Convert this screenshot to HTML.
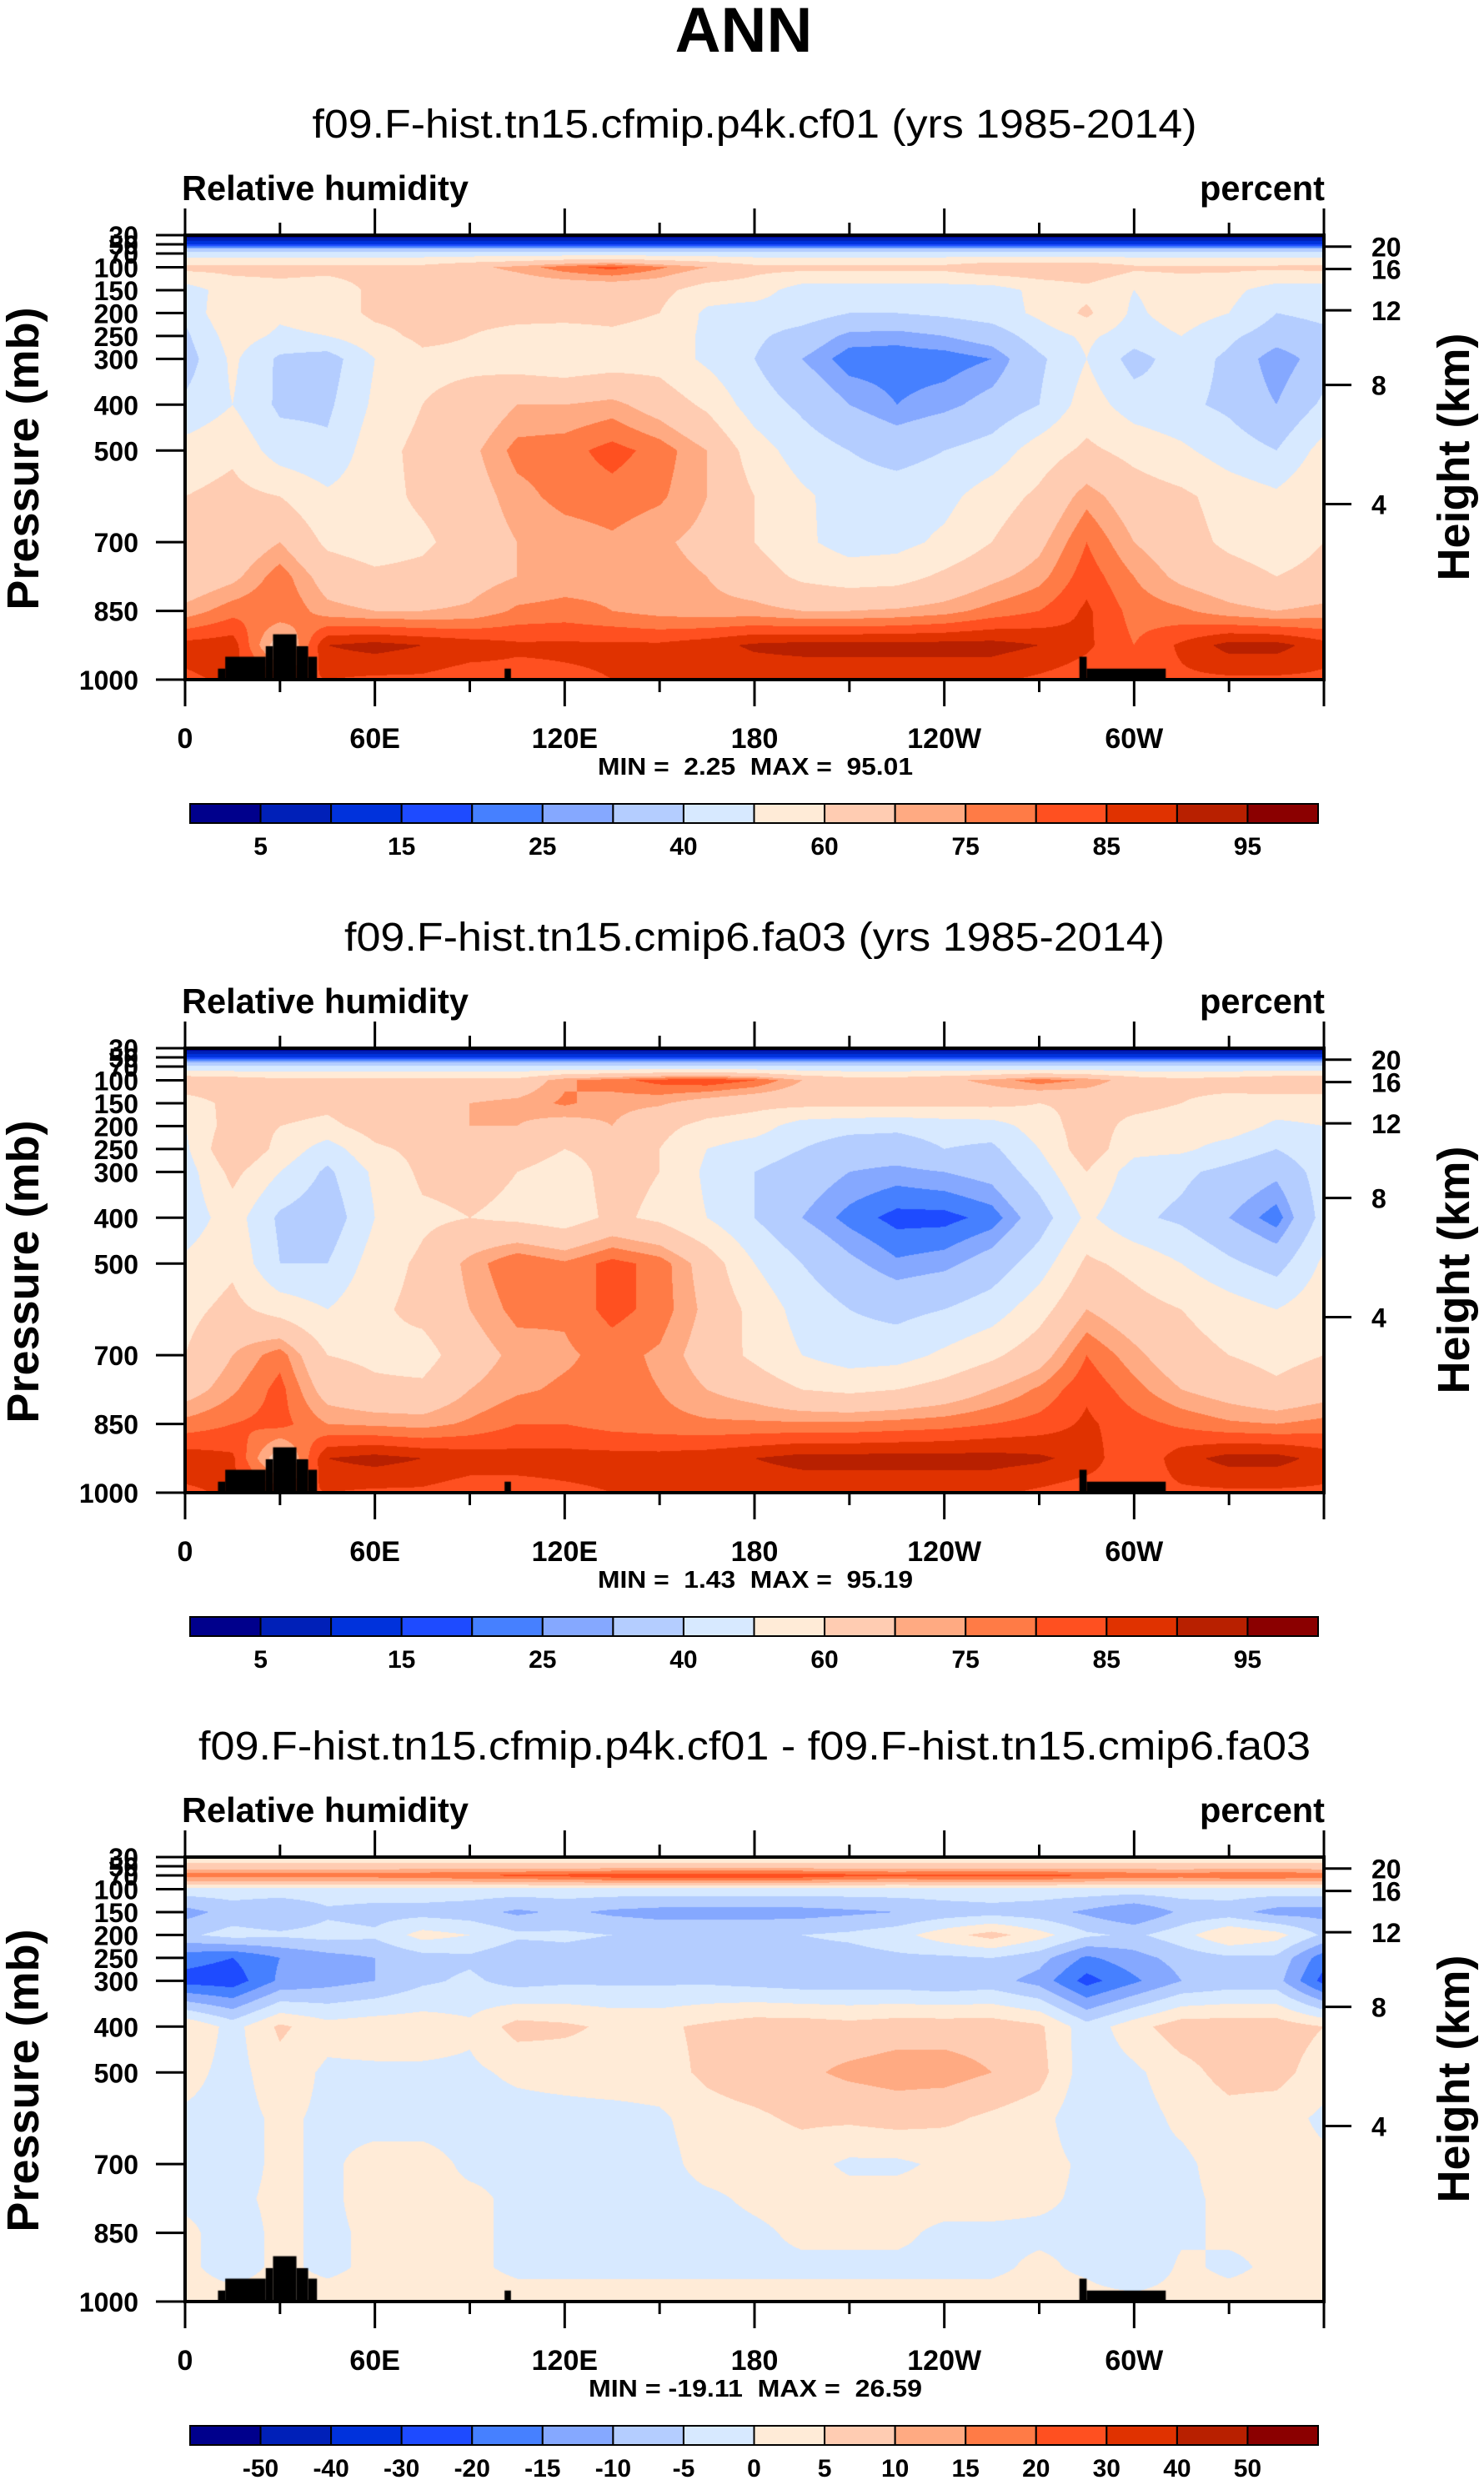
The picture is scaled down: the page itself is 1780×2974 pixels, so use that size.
<!DOCTYPE html>
<html><head><meta charset="utf-8"><style>
html,body{margin:0;padding:0;background:#fff;}
#wrap{position:relative;width:1780px;height:2974px;overflow:hidden;background:#fff;}
canvas{position:absolute;}
svg{position:absolute;left:0;top:0;}
text{font-family:"Liberation Sans",Arial,sans-serif;white-space:pre;}
</style></head><body>
<div id="wrap">
<canvas id="c0"></canvas>
<canvas id="c1"></canvas>
<canvas id="c2"></canvas>
<svg id="ov" width="1780" height="2974"></svg>
</div>
<script>
// ---- data ----
const lons = [0,15,30,45,60,75,90,105,120,135,150,165,180,195,210,225,240,255,270,285,300,315,330,345,360];
const plevs = [30,50,70,100,150,200,250,300,400,500,600,700,775,850,925,1000];
const rh1 = [
[2,2,2,2,2,2,2,2,2,2,2,2,2,2,2,2,2,2,2,2,2,2,2,2,2],
[15,15,15,15,15,15,15,15,15,15,15,15,15,15,15,15,15,15,15,15,15,15,15,15,15],
[45,45,45,45,45,45,45,45,45,45,45,45,45,45,45,45,45,45,45,45,45,45,45,45,45],
[63,63,63,63,63,63,68,72,78,82,76,70,63,63,63,63,63,68,68,68,62,62,62,62,63],
[45,55,57,55,62,63,63,63,63,63,63,55,55,45,45,45,45,45,53,57,50,55,53,45,45],
[42,60,52,55,62,63,63,63,63,63,60,48,45,45,40,40,42,45,52,62,48,55,50,40,42],
[38,55,48,50,57,62,60,57,56,58,56,48,42,36,28,27,30,34,45,52,45,50,42,35,38],
[35,52,38,35,50,58,58,55,53,55,56,48,40,30,22,22,22,25,38,50,36,45,38,25,35],
[42,50,38,38,52,60,63,70,70,72,66,58,45,38,30,25,28,33,40,55,45,42,38,30,42],
[54,58,45,42,56,63,68,77,78,82,78,70,55,45,40,36,40,44,55,62,57,52,45,40,54],
[60,63,60,52,56,62,66,73,77,78,76,70,60,52,45,45,47,55,62,73,65,62,56,52,60],
[60,63,70,58,55,58,65,70,72,74,71,68,60,52,46,47,52,60,68,80,70,64,58,55,60],
[63,68,78,66,62,63,67,70,72,73,72,70,65,58,55,56,62,68,73,83,75,68,64,60,63],
[72,78,80,72,70,70,71,76,77,75,73,72,72,70,70,71,73,77,80,86,78,76,72,70,72],
[87,88,65,90,92,90,88,86,86,86,86,88,91,92,92,92,92,92,90,86,80,86,92,92,87],
[84,86,84,85,84,84,82,83,84,85,86,86,86,86,86,86,86,86,84,82,83,84,84,84,84]
];
const rh2 = [
[2,2,2,2,2,2,2,2,2,2,2,2,2,2,2,2,2,2,2,2,2,2,2,2,2],
[14,14,14,14,14,14,14,14,14,14,14,14,14,14,14,14,14,14,14,14,14,14,14,14,14],
[42,42,42,42,42,42,42,42,42,42,42,42,42,42,42,42,42,42,42,42,42,42,42,42,42],
[68,66,63,63,63,63,63,63,74,78,82,84,80,70,65,65,68,72,78,74,66,63,65,68,68],
[55,63,65,63,70,70,70,72,76,72,71,66,63,63,63,63,63,63,60,62,63,60,56,55,55],
[50,65,60,57,65,68,70,70,66,70,63,57,55,45,43,42,44,45,55,65,57,55,55,48,50],
[48,70,57,45,58,63,65,65,60,63,60,50,45,40,35,35,40,38,50,66,53,52,46,40,48],
[45,63,50,38,52,62,63,60,56,63,60,48,40,35,30,28,30,33,45,60,45,42,37,32,45],
[44,55,38,33,50,58,60,58,55,62,58,50,40,30,23,18,18,22,35,52,42,38,30,22,44],
[52,58,40,40,55,62,72,80,76,82,78,66,50,40,32,26,28,34,45,62,57,50,42,36,52],
[57,63,56,50,58,63,70,77,76,82,78,68,57,46,40,37,40,45,56,70,64,60,55,50,57],
[60,70,78,60,58,56,66,72,74,77,74,66,58,50,45,46,52,58,66,80,72,64,60,57,60],
[66,74,82,66,62,62,70,74,76,77,75,70,66,60,58,60,64,70,76,84,77,70,66,62,66],
[77,80,82,75,74,73,76,80,80,78,77,76,76,76,76,77,78,80,82,86,82,79,76,75,77],
[88,86,65,90,92,90,88,87,87,87,87,88,90,92,92,92,92,92,91,88,80,88,92,92,88],
[84,86,84,85,84,84,82,83,84,85,86,86,86,86,86,86,86,86,84,82,83,84,84,84,84]
];
const rhdiff = [
[3,3,3,3,3,3,3,3,3,3,3,3,3,3,3,3,3,3,3,3,3,3,3,3,3],
[6,6,6,6,6,6,6,6,6,6,6,6,6,6,6,6,6,6,6,6,6,6,6,6,6],
[18,18,18,18,18,19,20,21,22,24,24,24,24,24,22,21,22,22,22,20,19,18,20,20,18],
[-2,-2,-2,-2,-2,-2,-2,-2,-2,-2,-2,-2,-2,-2,-2,-2,-2,-2,-2,-2,-2,-2,-2,-2,-2],
[-12,-8,-10,-6,-7,-7,-8,-11,-9,-11,-12,-12,-12,-12,-11,-10,-8,-7,-8,-11,-15,-9,-8,-12,-12],
[-6,-3,-4,-3,-4,2,0,-4,-4,-5,-6,-6,-6,-5,-4,-2,3,7,2,-4,-6,-2,5,2,-6],
[-18,-20,-15,-12,-10,-7,-6,-9,-7,-8,-8,-8,-7,-7,-7,-6,-6,-5,-8,-16,-12,-8,-6,-6,-18],
[-22,-23,-14,-12,-10,-6,-4,-7,-6,-6,-6,-6,-7,-8,-8,-8,-9,-8,-12,-22,-16,-10,-8,-8,-22],
[5,-2,6,2,3,3,1,7,6,4,4,6,8,8,7,8,8,8,6,-3,3,8,8,8,5],
[2,-2,3,-1,-1,-1,-1,1,2,3,3,6,8,9,11,12,12,10,7,-3,-1,3,7,7,2],
[-1,-2,1,-1,-2,-2,-2,-2,-2,-2,-1,3,4,6,6,7,6,4,2,-4,-2,1,3,2,-1],
[-1,-2,1,-1,2,2,-1,-1,-2,-2,-2,2,2,2,-1,-1,1,2,2,-1,-1,-1,2,2,1],
[-1,-1,1,-1,2,1,1,-1,-2,-2,-2,-1,1,2,2,2,2,2,1,-1,-1,-1,1,1,1],
[1,-2,1,-1,1,2,1,-1,-2,-2,-2,-2,-1,1,1,1,-1,-1,-1,-1,-3,-1,1,1,1],
[1,-2,1,-1,1,1,1,-1,-1,-1,-1,-1,-1,-1,-1,-1,-1,-1,1,-1,-5,1,-1,1,1],
[2,2,2,2,2,2,2,2,2,2,2,2,2,2,2,2,2,2,2,2,2,2,2,2,2]
];
const rhLevels = [5,10,15,20,25,30,40,50,60,70,75,80,85,90,95];
const rhLabels = ["5","15","25","40","60","75","85","95"];
const diffLevels = [-50,-40,-30,-20,-15,-10,-5,0,5,10,15,20,30,40,50];
const diffLabels = ["-50","-40","-30","-20","-15","-10","-5","0","5","10","15","20","30","40","50"];
const palette = ["#00008C","#0020B8","#0032DC","#1E4BFF","#4680FF","#85A8FF","#B4CDFF","#D7E9FF","#FFEBD7","#FFCCB2","#FFAA82","#FF7B46","#FF5020","#E03200","#B82000","#8B0000"];
const lonTickVals = [0,60,120,180,240,300];
const lonTickLabels = ["0","60E","120E","180","120W","60W"];
const presTicks = [30,50,70,100,150,200,250,300,400,500,700,850,1000];
const heightTicks = [20,16,12,8,4];
const heightPres = [55,104,194,357,617];
const topoLon0 = [10.4,12.7,25.5,27.8,35.2,38.9,101,282.7,285];
const topoLon1 = [12.7,25.5,27.8,35.2,38.9,41.7,103,285,310];
const topoTop  = [976,950,927,901,927,950,976,950,976];
const titles = ["f09.F-hist.tn15.cfmip.p4k.cf01 (yrs 1985-2014)","f09.F-hist.tn15.cmip6.fa03 (yrs 1985-2014)","f09.F-hist.tn15.cfmip.p4k.cf01 - f09.F-hist.tn15.cmip6.fa03"];
const titleWidths = [1061,984,1334];
const minmax = ["MIN =  2.25  MAX =  95.01","MIN =  1.43  MAX =  95.19","MIN = -19.11  MAX =  26.59"];

// ---- layout ----
const BX=222, BW=1366, BH=533;
const tops=[282,1257,2227];
const NS="http://www.w3.org/2000/svg";
const ov=document.getElementById('ov');
function xOf(lon){return BX+lon/360*BW;}
function yOf(T,p){return T+(p-30)/970*BH;}
function mk(tag,attrs,txt){const e=document.createElementNS(NS,tag);for(const k in attrs)e.setAttribute(k,attrs[k]);if(txt!==undefined)e.textContent=txt;ov.appendChild(e);return e;}
function hex(c){return [parseInt(c.substr(1,2),16),parseInt(c.substr(3,2),16),parseInt(c.substr(5,2),16)];}
const pal=palette.map(hex);

function drawField(idx,grid,levels){
  const cv=document.getElementById('c'+idx);
  cv.width=BW;cv.height=BH;cv.style.left=BX+'px';cv.style.top=tops[idx]+'px';
  const ctx=cv.getContext('2d');
  const img=ctx.createImageData(BW,BH);
  for(let y=0;y<BH;y++){
    const p=30+(y+0.5)/BH*970;
    let j=0;while(j<plevs.length-2&&p>plevs[j+1])j++;
    const fy=Math.min(1,Math.max(0,(p-plevs[j])/(plevs[j+1]-plevs[j])));
    for(let x=0;x<BW;x++){
      const lon=(x+0.5)/BW*360;
      let i=Math.min(lons.length-2,Math.floor(lon/15));
      const fx=(lon-lons[i])/15;
      const v=(grid[j][i]*(1-fx)+grid[j][i+1]*fx)*(1-fy)+(grid[j+1][i]*(1-fx)+grid[j+1][i+1]*fx)*fy;
      let k=0;while(k<levels.length&&v>=levels[k])k++;
      const c=pal[k];const o=(y*BW+x)*4;
      img.data[o]=c[0];img.data[o+1]=c[1];img.data[o+2]=c[2];img.data[o+3]=255;
    }
  }
  ctx.putImageData(img,0,0);
  ctx.fillStyle='#000';
  for(let t=0;t<topoLon0.length;t++){
    const x0=topoLon0[t]/360*BW,x1=topoLon1[t]/360*BW,y0=(topoTop[t]-30)/970*BH;
    ctx.fillRect(x0,y0,x1-x0,BH-y0);
  }
}

function drawPanel(idx,grid,levels,cbLabels,allLabels){
  const T=tops[idx],B=T+BH;
  drawField(idx,grid,levels);
  let e;
  e=mk('text',{x:905,y:T-117,'font-size':48,'text-anchor':'middle',textLength:titleWidths[idx],lengthAdjust:'spacingAndGlyphs'},titles[idx]);
  
  
  e=mk('text',{x:218,y:T-42,'font-size':42,'font-weight':'bold',textLength:344,lengthAdjust:'spacingAndGlyphs'},'Relative humidity');
  
  
  e=mk('text',{x:1589,y:T-42,'font-size':42,'font-weight':'bold','text-anchor':'end',textLength:150,lengthAdjust:'spacingAndGlyphs'},'percent');
  
  
  for(let l=0;l<=360;l+=30){
    const x=xOf(l);const major=(l%60===0);const len=major?32:15;
    e=mk('line',{x1:x,x2:x,y1:T-len,y2:T,stroke:'#000','stroke-width':3});
    
    
    e=mk('line',{x1:x,x2:x,y1:B,y2:B+len,stroke:'#000','stroke-width':3});
    
    
  }
  lonTickVals.forEach((l,k)=>{
    e=mk('text',{x:xOf(l),y:B+82,'font-size':34,'font-weight':'bold','text-anchor':'middle'},lonTickLabels[k]);
    
    
  });
  presTicks.forEach(p=>{
    const y=yOf(T,p);
    e=mk('line',{x1:187,x2:BX,y1:y,y2:y,stroke:'#000','stroke-width':3});
    
    
    e=mk('text',{x:166,y:y+12,'font-size':32,'font-weight':'bold','text-anchor':'end'},String(p));
    
    
  });
  heightTicks.forEach((h,k)=>{
    const y=yOf(T,heightPres[k]);
    e=mk('line',{x1:BX+BW,x2:1621,y1:y,y2:y,stroke:'#000','stroke-width':3});
    
    
    e=mk('text',{x:1645,y:y+12,'font-size':32,'font-weight':'bold'},String(h));
    
    
  });
  e=mk('text',{x:0,y:0,'font-size':54,'font-weight':'bold','text-anchor':'middle',transform:'translate(46,'+(T+268)+') rotate(-90)'},'Pressure (mb)');
  
  
  e=mk('text',{x:0,y:0,'font-size':54,'font-weight':'bold','text-anchor':'middle',transform:'translate(1762,'+(T+266)+') rotate(-90)'},'Height (km)');
  
  
  e=mk('rect',{x:BX,y:T,width:BW,height:BH,fill:'none',stroke:'#000','stroke-width':4});
  
  
  e=mk('text',{x:906,y:B+114,'font-size':29,'font-weight':'bold','text-anchor':'middle',textLength:idx==2?400:378,lengthAdjust:'spacingAndGlyphs'},minmax[idx]);
  
  
  const cx0=228,cx1=1581,cy=B+149,ch=23,bw=(cx1-cx0)/16;
  for(let k=0;k<16;k++){
    e=mk('rect',{x:cx0+k*bw,y:cy,width:bw,height:ch,fill:palette[k],stroke:'#000','stroke-width':2});
    
    
  }
  cbLabels.forEach((t,k)=>{
    const bi=allLabels?k+1:2*k+1;
    e=mk('text',{x:cx0+bi*bw,y:B+210,'font-size':30,'font-weight':'bold','text-anchor':'middle'},t);
    
    
  });
}
let tt=mk('text',{x:892,y:62,'font-size':76,'font-weight':'bold','text-anchor':'middle'},'ANN');


drawPanel(0,rh1,rhLevels,rhLabels,false);
drawPanel(1,rh2,rhLevels,rhLabels,false);
drawPanel(2,rhdiff,diffLevels,diffLabels,true);
</script>
</body></html>
